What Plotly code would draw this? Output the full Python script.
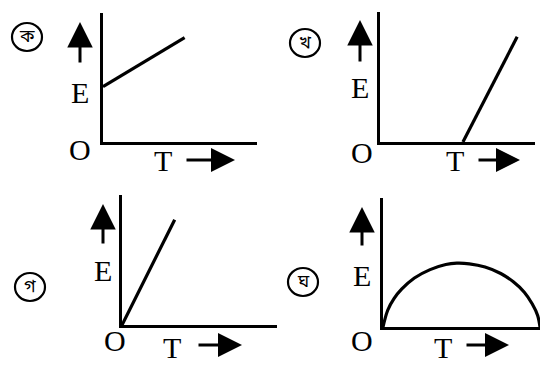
import plotly.graph_objects as go

W, H = 553, 365

# ---- data (each panel's axes run 0..10) ----
labels = ["ক", "খ", "গ", "ঘ"]

ka_T = [0, 5.3]
ka_E = [4.3, 8.1]

kha_T = [5.35, 8.85]
kha_E = [0, 8.1]

ga_T = [0, 3.4]
ga_E = [0, 8.1]

gha_T = [0, 0.3, 0.7, 1.2, 2, 3, 4, 4.7, 5.5, 6.5, 7.5, 8.3, 9.0, 9.5, 9.85, 10]
gha_E = [0, 1.3, 2.2, 2.95, 3.8, 4.45, 4.85, 4.95, 4.9, 4.65, 4.15, 3.5, 2.7, 1.8, 0.9, 0]

axis_label_y = "E"
axis_label_x = "T"
origin_label = "O"

series = [(ka_T, ka_E), (kha_T, kha_E), (ga_T, ga_E), (gha_T, gha_E)]

# ---- layout geometry (pixels) ----
boxes = [(103, 257, 13, 142), (380, 535, 12, 142), (122, 277, 195, 325), (383, 540, 198, 327)]
decor = [
    dict(circ=(27, 37), up=(80, 22, 64), E=(80, 92), O=(80, 149), T=(163, 160), rt=(185, 235, 160)),
    dict(circ=(305, 43), up=(360, 20, 63), E=(360, 87), O=(362, 153), T=(455, 160), rt=(477, 520, 160)),
    dict(circ=(30, 287), up=(103, 204, 245), E=(103, 270), O=(115, 340), T=(172, 347), rt=(197, 242, 345)),
    dict(circ=(303, 282), up=(362, 207, 247), E=(362, 275), O=(362, 340), T=(443, 347), rt=(465, 509, 345)),
]

def px(x):
    return x / W

def py(y):
    return 1 - y / H

fig = go.Figure()
serif = "Liberation Serif, Times New Roman, serif"
annotations = []
shapes = []

for i, ((xs, ys), (x0, x1, y0, y1), d) in enumerate(zip(series, boxes, decor)):
    k = "" if i == 0 else str(i + 1)
    fig.add_trace(go.Scatter(
        x=xs, y=ys, mode="lines",
        line=dict(color="black", width=3.2, shape="spline" if i == 3 else "linear"),
        xaxis="x" + k, yaxis="y" + k, showlegend=False, hoverinfo="skip",
        cliponaxis=False,
    ))
    ax_common = dict(showline=True, linewidth=3.2, linecolor="black", showgrid=False,
                     zeroline=False, showticklabels=False, ticks="", fixedrange=True)
    fig.update_layout(**{
        "xaxis" + k: dict(domain=[px(x0), px(x1)], range=[0, 10], anchor="y" + k, **ax_common),
        "yaxis" + k: dict(domain=[py(y1), py(y0)], range=[0, 10], anchor="x" + k, **ax_common),
    })
    cx, cy = d["circ"]
    shapes.append(dict(type="circle", xref="paper", yref="paper",
                       x0=px(cx - 15), x1=px(cx + 15), y0=py(cy + 14), y1=py(cy - 14),
                       line=dict(color="black", width=2.2)))
    annotations.append(dict(text=labels[i], x=px(cx), y=py(cy), xref="paper", yref="paper",
                            showarrow=False, font=dict(size=18, color="black",
                            family="Noto Sans Bengali, Noto Sans, sans-serif"),
                            xanchor="center", yanchor="middle"))
    ux, utop, ubot = d["up"]
    annotations.append(dict(text="", x=px(ux), y=py(utop), xref="paper", yref="paper",
                            showarrow=True, ax=0, ay=ubot - utop, arrowhead=2, arrowsize=1.7,
                            arrowwidth=3, arrowcolor="black"))
    rx0, rx1, ry = d["rt"]
    annotations.append(dict(text="", x=px(rx1), y=py(ry), xref="paper", yref="paper",
                            showarrow=True, ax=-(rx1 - rx0), ay=0, arrowhead=2, arrowsize=1.6,
                            arrowwidth=3, arrowcolor="black"))
    for key, txt in (("E", axis_label_y), ("O", origin_label), ("T", axis_label_x)):
        tx, ty = d[key]
        annotations.append(dict(text=txt, x=px(tx), y=py(ty), xref="paper", yref="paper",
                                showarrow=False, font=dict(size=30, color="black", family=serif),
                                xanchor="center", yanchor="middle"))

fig.update_layout(width=W, height=H, margin=dict(l=0, r=0, t=0, b=0),
                  paper_bgcolor="white", plot_bgcolor="white",
                  annotations=annotations, shapes=shapes)

fig.write_html("out.html", config={"displayModeBar": False},
               post_script="document.body.style.margin='0';")
